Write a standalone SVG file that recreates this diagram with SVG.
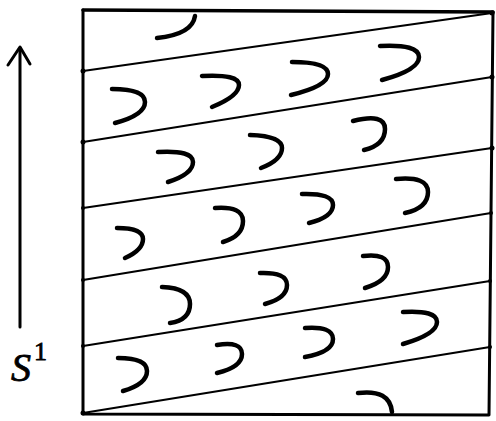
<svg xmlns="http://www.w3.org/2000/svg" width="496" height="421" viewBox="0 0 496 421">
<style>
.edge{fill:none;stroke:#000;stroke-width:3;stroke-linejoin:round;stroke-linecap:round}
.top{stroke-width:3.6}
.ln{fill:none;stroke:#000;stroke-width:2.2;stroke-linecap:round}
.hk{fill:none;stroke:#000;stroke-width:4.5;stroke-linecap:round;stroke-linejoin:round}
.dot{fill:#000}
.lbl{font-family:"Liberation Serif","DejaVu Serif",serif;fill:#000;stroke:#000;stroke-width:0.8}
</style>
<rect width="496" height="421" fill="#fff"/>
<g id="arrow">
<line class="edge" x1="20" y1="48" x2="20" y2="327"/>
<polyline class="edge" points="8,65 20,47 30,64"/>
</g>
<text id="label" class="lbl" x="11" y="381" font-size="40" font-style="italic">S<tspan font-size="26" font-style="normal" dy="-21" dx="3">1</tspan></text>
<g id="square">
<polyline class="edge top" points="83,10 493,12"/>
<polyline class="edge" points="493,12 489,415 83,414 83,10"/>
<g id="lines">
<line class="ln" x1="83" y1="71" x2="492" y2="13"/>
<line class="ln" x1="83" y1="142" x2="492" y2="77"/>
<line class="ln" x1="83" y1="208" x2="492" y2="148"/>
<line class="ln" x1="83" y1="280" x2="491" y2="213"/>
<line class="ln" x1="83" y1="346" x2="490" y2="281"/>
<line class="ln" x1="83" y1="413" x2="490" y2="347"/>
</g>
<g id="ticks">
<circle class="dot" cx="83" cy="71" r="2.5"/>
<circle class="dot" cx="83" cy="142" r="2.5"/>
<circle class="dot" cx="83" cy="208" r="2"/>
<circle class="dot" cx="83" cy="280" r="2"/>
<circle class="dot" cx="83" cy="346" r="2"/>
<circle class="dot" cx="83" cy="413" r="2.5"/>
<circle class="dot" cx="492" cy="13" r="2.5"/>
<circle class="dot" cx="492" cy="77" r="2.5"/>
<circle class="dot" cx="492" cy="148" r="2.5"/>
<circle class="dot" cx="491" cy="213" r="2"/>
<circle class="dot" cx="490" cy="281" r="2"/>
<circle class="dot" cx="490" cy="347" r="2"/>
</g>
</g>
<g id="hooks">
<path class="hk" d="M157,38 C176,36 193,30 195,16"/>
<path class="hk" d="M112,89 Q145,89 145,102 T115,123"/>
<path class="hk" d="M202,76 Q239,74 239,85 T212,107"/>
<path class="hk" d="M292,62 Q328,62 328,74 T291,95"/>
<path class="hk" d="M380,46 Q419,44 419,57 T382,80"/>
<path class="hk" d="M158,152 Q193,150 193,162 T168,182"/>
<path class="hk" d="M250,135 Q282,136 282,148 T261,168"/>
<path class="hk" d="M353,121 Q385,113 385,129 T364,150"/>
<path class="hk" d="M117,228 Q143,228 143,239 T125,258"/>
<path class="hk" d="M215,208 Q243,206 243,221 T223,242"/>
<path class="hk" d="M302,194 Q333,193 333,205 T309,223"/>
<path class="hk" d="M396,179 Q428,176 428,192 T405,213"/>
<path class="hk" d="M162,287 Q190,288 190,304 T170,323"/>
<path class="hk" d="M260,273 Q287,272 287,285 T265,304"/>
<path class="hk" d="M363,256 Q388,253 388,267 T365,288"/>
<path class="hk" d="M118,358 Q147,358 147,371 T123,391"/>
<path class="hk" d="M217,345 Q242,341 242,354 T217,373"/>
<path class="hk" d="M305,328 Q333,326 333,339 T305,357"/>
<path class="hk" d="M403,312 Q437,310 437,322 T403,344"/>
<path class="hk" d="M358,393 Q390,389 392,412"/>
</g>
</svg>
